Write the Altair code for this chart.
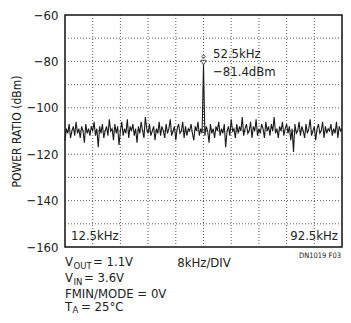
import altair as alt
import pandas as pd

FONT = "DejaVu Sans Condensed, Liberation Sans, sans-serif"

# spectrum: frequency bins (kHz) from 12.5 to 92.5 in 0.4 kHz steps
f_start = 12.5
f_step = 0.4
noise_dbm = [
    -114, -109, -111, -107, -113, -110, -108, -112, -106, -111,
    -109, -113, -108, -110, -115, -107, -111, -109, -112, -108,
    -110, -106, -112, -109, -117, -108, -111, -107, -113, -110,
    -108, -112, -105, -110, -109, -114, -107, -111, -108, -116,
    -110, -106, -112, -109, -111, -105, -113, -108, -110, -107,
    -112, -109, -115, -108, -111, -106, -110, -113, -104, -109,
    -111, -107, -112, -110, -108, -114, -109, -111, -106, -112,
    -108, -110, -113, -107, -111, -109, -105, -112, -110, -108,
    -114, -109, -107, -111, -110, -106, -113, -108, -112, -109,
    -110, -107, -111, -114, -108, -110, -106, -112, -109, -111,
    -81.4,
    -112, -108, -110, -115, -107, -111, -109, -113, -108, -110,
    -106, -112, -109, -111, -107, -117, -110, -108, -112, -105,
    -110, -109, -113, -107, -111, -108, -110, -104, -112, -109,
    -107, -111, -110, -106, -113, -108, -110, -105, -112, -109,
    -111, -107, -109, -113, -106, -110, -108, -112, -107, -110,
    -104, -111, -109, -113, -108, -110, -106, -112, -109, -107,
    -111, -108, -114, -109, -119, -107, -111, -110, -106, -112,
    -108, -110, -113, -107, -111, -109, -105, -112, -110, -108,
    -114, -109, -107, -111, -110, -106, -113, -108, -111, -109,
    -110, -107, -112, -109, -111, -106, -113, -108, -110, -109,
]
freqs = [round(f_start + i * f_step, 2) for i in range(len(noise_dbm))]

peak_freq = [52.5]
peak_dbm = [-81.4]

x_grid = [20.5, 28.5, 36.5, 44.5, 52.5, 60.5, 68.5, 76.5, 84.5]
y_grid = [-150, -140, -130, -120, -110, -100, -90, -80, -70]
y_labels = [-160, -140, -120, -100, -80, -60]

spec = pd.DataFrame({"f": freqs, "p": noise_dbm})
xs = alt.Scale(domain=[12.5, 92.5], nice=False, zero=False)
ys = alt.Scale(domain=[-160, -60], nice=False, zero=False)

yaxis = alt.Axis(
    values=y_labels,
    title="POWER RATIO (dBm)",
    titleFont=FONT,
    titleFontSize=12,
    titleFontWeight="normal",
    titleColor="#222",
    titleX=-49,
    titleY=116,
    titleAngle=270,
    titleAlign="center",
    titleBaseline="middle",
    labelFont=FONT,
    labelFontSize=13,
    labelColor="#222",
    labelPadding=7,
    tickSize=0,
    domain=False,
    grid=False,
)

vgrid = alt.Chart(pd.DataFrame({"g": x_grid})).mark_rule(
    color="#333", strokeWidth=0.8, strokeDash=[1, 2]
).encode(x=alt.X("g:Q", scale=xs, axis=None))

hgrid = alt.Chart(pd.DataFrame({"g": y_grid})).mark_rule(
    color="#333", strokeWidth=0.8, strokeDash=[1, 2]
).encode(y=alt.Y("g:Q", scale=ys, axis=yaxis))

line = alt.Chart(spec).mark_line(color="#1a1a1a", strokeWidth=1.1).encode(
    x=alt.X("f:Q", scale=xs, axis=None),
    y=alt.Y("p:Q", scale=ys, axis=yaxis),
)

pk = pd.DataFrame({"f": peak_freq, "p": peak_dbm})
tri = alt.Chart(pk).mark_point(
    shape="triangle-down", size=30, filled=True, fill="white", stroke="#111", strokeWidth=1, yOffset=-2
).encode(x=alt.X("f:Q", scale=xs, axis=None), y=alt.Y("p:Q", scale=ys, axis=yaxis))
circ = alt.Chart(pk).mark_point(
    shape="circle", size=10, filled=False, stroke="#111", strokeWidth=1, yOffset=-8
).encode(x=alt.X("f:Q", scale=xs, axis=None), y=alt.Y("p:Q", scale=ys, axis=yaxis))

def txt(s, x, y, size=13, align="left", baseline="alphabetic", color="#222"):
    return alt.Chart(pd.DataFrame({"t": [s]})).mark_text(
        font=FONT, fontSize=size, align=align, baseline=baseline, color=color
    ).encode(text="t:N", x=alt.value(x), y=alt.value(y))

texts = [
    txt("52.5kHz", 148, 43),
    txt("\u221281.4dBm", 148, 61),
    txt("12.5kHz", 6, 225),
    txt("92.5kHz", 273, 225, align="right"),
    txt("8kHz/DIV", 139, 252, align="center"),
    txt("DN1019 F03", 276, 243, size=7.5, align="right"),
    # V_OUT = 1.1V
    txt("V", 0, 251),
    txt("OUT", 8.5, 253.5, size=9.5),
    txt("= 1.1V", 28, 251),
    # V_IN = 3.6V
    txt("V", 0, 267),
    txt("IN", 8.5, 269.5, size=9.5),
    txt("= 3.6V", 19, 267),
    txt("FMIN/MODE = 0V", 0, 282.5),
    # T_A = 25°C
    txt("T", 0, 296),
    txt("A", 7.5, 298, size=9.5),
    txt("= 25\u00b0C", 16, 296),
]

chart = alt.layer(vgrid, hgrid, line, tri, circ, *texts).properties(
    width=277,
    height=232,
    autosize=alt.AutoSizeParams(type="none"),
    padding={"left": 57, "top": 7, "right": 1, "bottom": 68},
).configure(background="white").configure_view(stroke="#111", strokeWidth=1.5)

chart.save("out.html", embed_options={"renderer": "svg", "actions": False})
